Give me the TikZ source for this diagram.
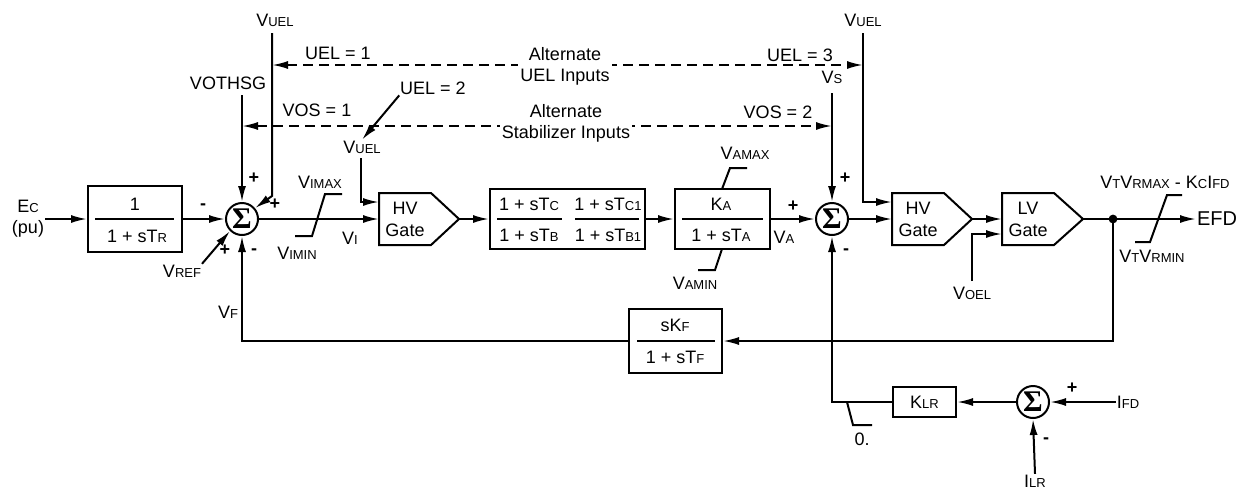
\documentclass[tikz,border=0pt]{standalone}
\usepackage{fontspec}
\setmainfont{Liberation Sans}
\newfontfamily\sigfont{Liberation Serif}
\usetikzlibrary{arrows.meta,calc}
\newcommand{\ssc}[1]{{\fontsize{6.5}{7}\selectfont #1}}
\newcommand{\sumsym}{{\sigfont\bfseries Σ}}
\begin{document}
\begin{tikzpicture}[x=0.5pt,y=-0.5pt,line width=1pt,font=\fontsize{9}{10.5}\selectfont,
  arr/.style={-{Latex[length=8pt,width=4pt]}},
  dline/.style={{Latex[length=8pt,width=4pt]}-{Latex[length=8pt,width=4pt]},dash pattern=on 5pt off 3pt},
  blockbox/.style={draw,rectangle,inner sep=0pt},
  sumnode/.style={draw,circle,minimum size=16pt,inner sep=0pt,font=\fontsize{15}{15}\selectfont},
  gatebody/.style={rectangle,minimum width=25pt,minimum height=25pt,inner sep=0pt,align=center,font=\fontsize{9}{11}\selectfont},
  lbl/.style={inner sep=0pt},
  sgn/.style={inner sep=0pt,font=\fontsize{9}{9}\selectfont\bfseries}]
\useasboundingbox (0,0) rectangle (1241,493);

% ---- input and first block
\node[lbl,align=center] (ec) at (28,219) {E\ssc{C}\\(pu)};
\node[blockbox,minimum width=47pt,minimum height=33pt] (tf1) at (135,219) {};
\node[lbl] (tf1n) at (135,204) {1};
\node[lbl] (tf1d) at (137,236) {1 + sT\ssc{R}};
\draw (95,219) -- (174,219);
\draw[arr] (ec.east) -- (tf1.west);

% ---- summing junction 1
\node[sumnode] (s1) at (242,219) {\sumsym};
\draw[arr] (tf1.east) -- (s1.west);
\node[sgn] at (203,207) {-};
\node[lbl] (vothsg) at (228,83) {VOTHSG};
\coordinate (vo) at (242,95);
\draw[arr] (vo) -- (s1.north);
\node[sgn] at (254,178) {+};
\node[lbl] (vuel1) at (275,20) {V\ssc{UEL}};
\coordinate (vu1a) at (272,33);
\coordinate (vu1b) at (272,196);
\draw[arr] (vu1a) -- (vu1b) -- (s1.40);
\node[sgn] at (275,204) {+};
\node[lbl] (vref) at (182,271) {V\ssc{REF}};
\draw[arr] (vref.north east) -- (s1.225);
\node[sgn] at (225,250) {+};
\node[sgn] at (254,252) {-};
\node[lbl] (vf) at (228,312) {V\ssc{F}};

% ---- HV gate 1
\node[gatebody] (g1) at (405,219) {HV\\Gate};
\coordinate (g1tip) at ($(g1.east)+(28,0)$);
\draw (g1.north west) -- (g1.north east) -- (g1tip) -- (g1.south east) -- (g1.south west) -- cycle;
\coordinate (g1in2) at ($(g1.west)+(0,-17)$);
\draw[arr] (s1.east) -- (g1.west);
\draw (342,194) -- (325,194) -- (312,236) -- (295,236);
\node[lbl] (vimax) at (320,182) {V\ssc{IMAX}};
\node[lbl] (vimin) at (297,253) {V\ssc{IMIN}};
\node[lbl] (vi) at (350,238) {V\ssc{I}};
\node[lbl] (vuel2) at (362,147) {V\ssc{UEL}};
\coordinate (vu2a) at (361,158);
\draw[arr] (vu2a) |- (g1in2);
\node[lbl] (uel2) at (433,88) {UEL = 2};
\draw[arr] (uel2.south west) -- (vuel2.north);

% ---- lead-lag block
\node[blockbox,minimum width=77.5pt,minimum height=30pt] (ll) at (567.5,219) {};
\draw[arr] (g1tip) -- (ll.west);
\node[lbl] at (529,204) {1 + sT\ssc{C}};
\node[lbl] at (608,204) {1 + sT\ssc{C1}};
\node[lbl] at (529,235) {1 + sT\ssc{B}};
\node[lbl] at (608,235) {1 + sT\ssc{B1}};
\draw (497,219) -- (562,219);
\draw (575,219) -- (639,219);

% ---- KA block
\node[blockbox,minimum width=47.5pt,minimum height=30pt] (ka) at (722.5,219) {};
\draw[arr] (ll.east) -- (ka.west);
\node[lbl] at (721,204) {K\ssc{A}};
\node[lbl] at (721,235) {1 + sT\ssc{A}};
\draw (682,219) -- (763,219);
\draw (747,168) -- (730,168) -- (722,189);
\node[lbl] (vamax) at (745,153) {V\ssc{AMAX}};
\draw (722,249) -- (715,270) -- (698,270);
\node[lbl] (vamin) at (695,283) {V\ssc{AMIN}};
\node[sgn] at (793,206) {+};
\node[lbl] (va) at (784,237) {V\ssc{A}};

% ---- summing junction 2
\node[sumnode] (s2) at (832,219) {\sumsym};
\draw[arr] (ka.east) -- (s2.west);
\node[lbl] (vs) at (832,77) {V\ssc{S}};
\coordinate (vsa) at (832,93);
\draw[arr] (vsa) -- (s2.north);
\node[sgn] at (845,178) {+};
\node[sgn] at (846,252) {-};

% ---- HV gate 2 and LV gate
\node[gatebody] (g2) at (918,219) {HV\\Gate};
\coordinate (g2tip) at ($(g2.east)+(28,0)$);
\draw (g2.north west) -- (g2.north east) -- (g2tip) -- (g2.south east) -- (g2.south west) -- cycle;
\coordinate (g2in2) at ($(g2.west)+(0,-17)$);
\node[lbl] (vuel3) at (863,20) {V\ssc{UEL}};
\coordinate (vu3a) at (863,33);
\draw[arr] (vu3a) |- (g2in2);
\draw[arr] (s2.east) -- (g2.west);

\node[gatebody] (g3) at (1028,219) {LV\\Gate};
\coordinate (g3tip) at ($(g3.east)+(29,0)$);
\draw (g3.north west) -- (g3.north east) -- (g3tip) -- (g3.south east) -- (g3.south west) -- cycle;
\coordinate (g3in2) at ($(g3.west)+(0,15)$);
\draw[arr] (g2tip) -- (g3.west);
\node[lbl] (voel) at (972,293) {V\ssc{OEL}};
\coordinate (voa) at (972,281);
\draw[arr] (voa) |- (g3in2);

% ---- output
\coordinate (dot) at (1113,219);
\node[lbl,anchor=west,font=\fontsize{10}{10}\selectfont] (efd) at (1196,219) {EFD};
\draw[arr] (g3tip) -- (efd.west);
\fill (dot) circle (2.2pt);
\draw (1182,195) -- (1167,195) -- (1150,242) -- (1135,242);
\node[lbl] (vtmax) at (1165,182) {V\ssc{T}V\ssc{RMAX} - K\ssc{C}I\ssc{FD}};
\node[lbl] (vtmin) at (1152,256) {V\ssc{T}V\ssc{RMIN}};

% ---- feedback
\node[blockbox,minimum width=46.5pt,minimum height=32pt] (skf) at (675.5,341) {};
\node[lbl] at (675,325) {sK\ssc{F}};
\node[lbl] at (675,357) {1 + sT\ssc{F}};
\draw (637,341) -- (715,341);
\draw[arr] (dot) |- (skf.east);
\draw[arr] (skf.west) -| (s1.south);

% ---- field current limiter
\node[blockbox,minimum width=31.5pt,minimum height=15pt] (klr) at (924.5,402) {K\ssc{LR}};
\node[sumnode] (s3) at (1033,402) {\sumsym};
\draw[arr] (s3.west) -- (klr.east);
\draw[arr] (klr.west) -| (s2.south);
\draw (847,402) -- (853,425) -- (872,425);
\node[lbl] (zero) at (862,439) {0.};
\node[lbl] (ifd) at (1128,402) {I\ssc{FD}};
\draw[arr] (ifd.west) -- (s3.east);
\node[sgn] at (1072,388) {+};
\node[lbl] (ilr) at (1035,481) {I\ssc{LR}};
\draw[arr] (ilr.north) -- (s3.south);
\node[sgn] at (1046,441) {-};

% ---- alternate inputs (dashed)
\coordinate (u1) at (272,65);
\coordinate (u3) at (863,65);
\draw[dline] (u1) -- (u3);
\node[fill=white,align=center,inner sep=1pt] (altuel) at (565,66) {Alternate\\UEL Inputs};
\node[lbl] (uel1) at (338,53) {UEL = 1};
\node[lbl] (uel3) at (800,55) {UEL = 3};

\coordinate (v1) at (242,126);
\coordinate (v2) at (832,126);
\draw[dline] (v1) -- (v2);
\node[fill=white,align=center,inner sep=1pt] (altstab) at (566,123) {Alternate\\Stabilizer Inputs};
\node[lbl] (vos1) at (317,110) {VOS = 1};
\node[lbl] (vos2) at (778,112) {VOS = 2};
\end{tikzpicture}
\end{document}
